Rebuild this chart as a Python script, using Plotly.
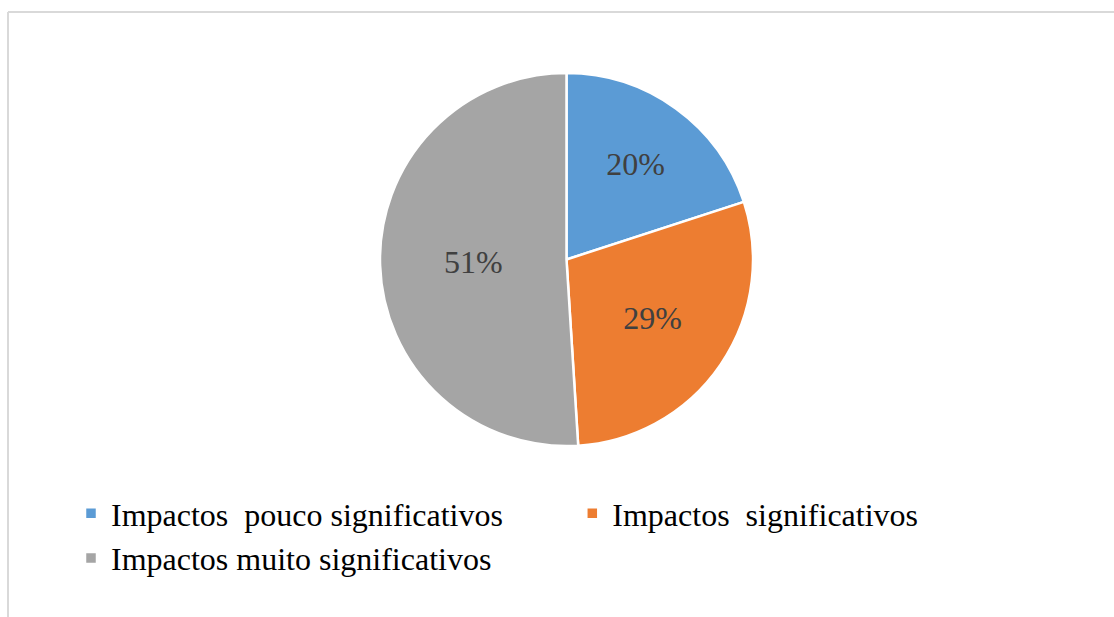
import plotly.graph_objects as go

labels = ["Impactos  pouco significativos", "Impactos  significativos", "Impactos muito significativos"]
values = [20, 29, 51]
colors = ["#5B9BD5", "#ED7D31", "#A5A5A5"]

W, H = 1114, 617
cx, cy, r = 566.5, 259.5, 186.5
FONT = "Liberation Serif"

fig = go.Figure(go.Pie(
    labels=labels,
    values=values,
    sort=False,
    direction="clockwise",
    rotation=0,
    marker=dict(colors=colors, line=dict(color="white", width=2.5)),
    textinfo="percent",
    texttemplate="%{percent:.0%}",
    textposition="inside",
    insidetextorientation="horizontal",
    textfont=dict(family=FONT, size=32, color="#404040"),
    hoverinfo="label+percent",
    domain=dict(x=[(cx - r) / W, (cx + r) / W], y=[1 - (cy + r) / H, 1 - (cy - r) / H]),
))

fig.update_layout(
    width=W, height=H,
    margin=dict(l=0, r=0, t=0, b=0, autoexpand=False),
    paper_bgcolor="white",
    plot_bgcolor="white",
    font=dict(family=FONT, size=32, color="#000000"),
    showlegend=True,
    legend=dict(
        orientation="h",
        x=71 / W, xanchor="left",
        y=1 - 486 / H, yanchor="top",
        entrywidth=0.45, entrywidthmode="fraction",
        bgcolor="rgba(0,0,0,0)",
        font=dict(family=FONT, size=32, color="#000000"),
        tracegroupgap=0,
        itemclick=False,
    ),
    shapes=[
        dict(type="line", xref="paper", yref="paper", x0=8 / W, x1=1.01, y0=1 - 12 / H, y1=1 - 12 / H,
             line=dict(color="#D9D9D9", width=2)),
        dict(type="line", xref="paper", yref="paper", x0=8 / W, x1=8 / W, y0=1 - 12 / H, y1=-0.01,
             line=dict(color="#D9D9D9", width=2)),
    ],
)

fig.write_html("out.html")
